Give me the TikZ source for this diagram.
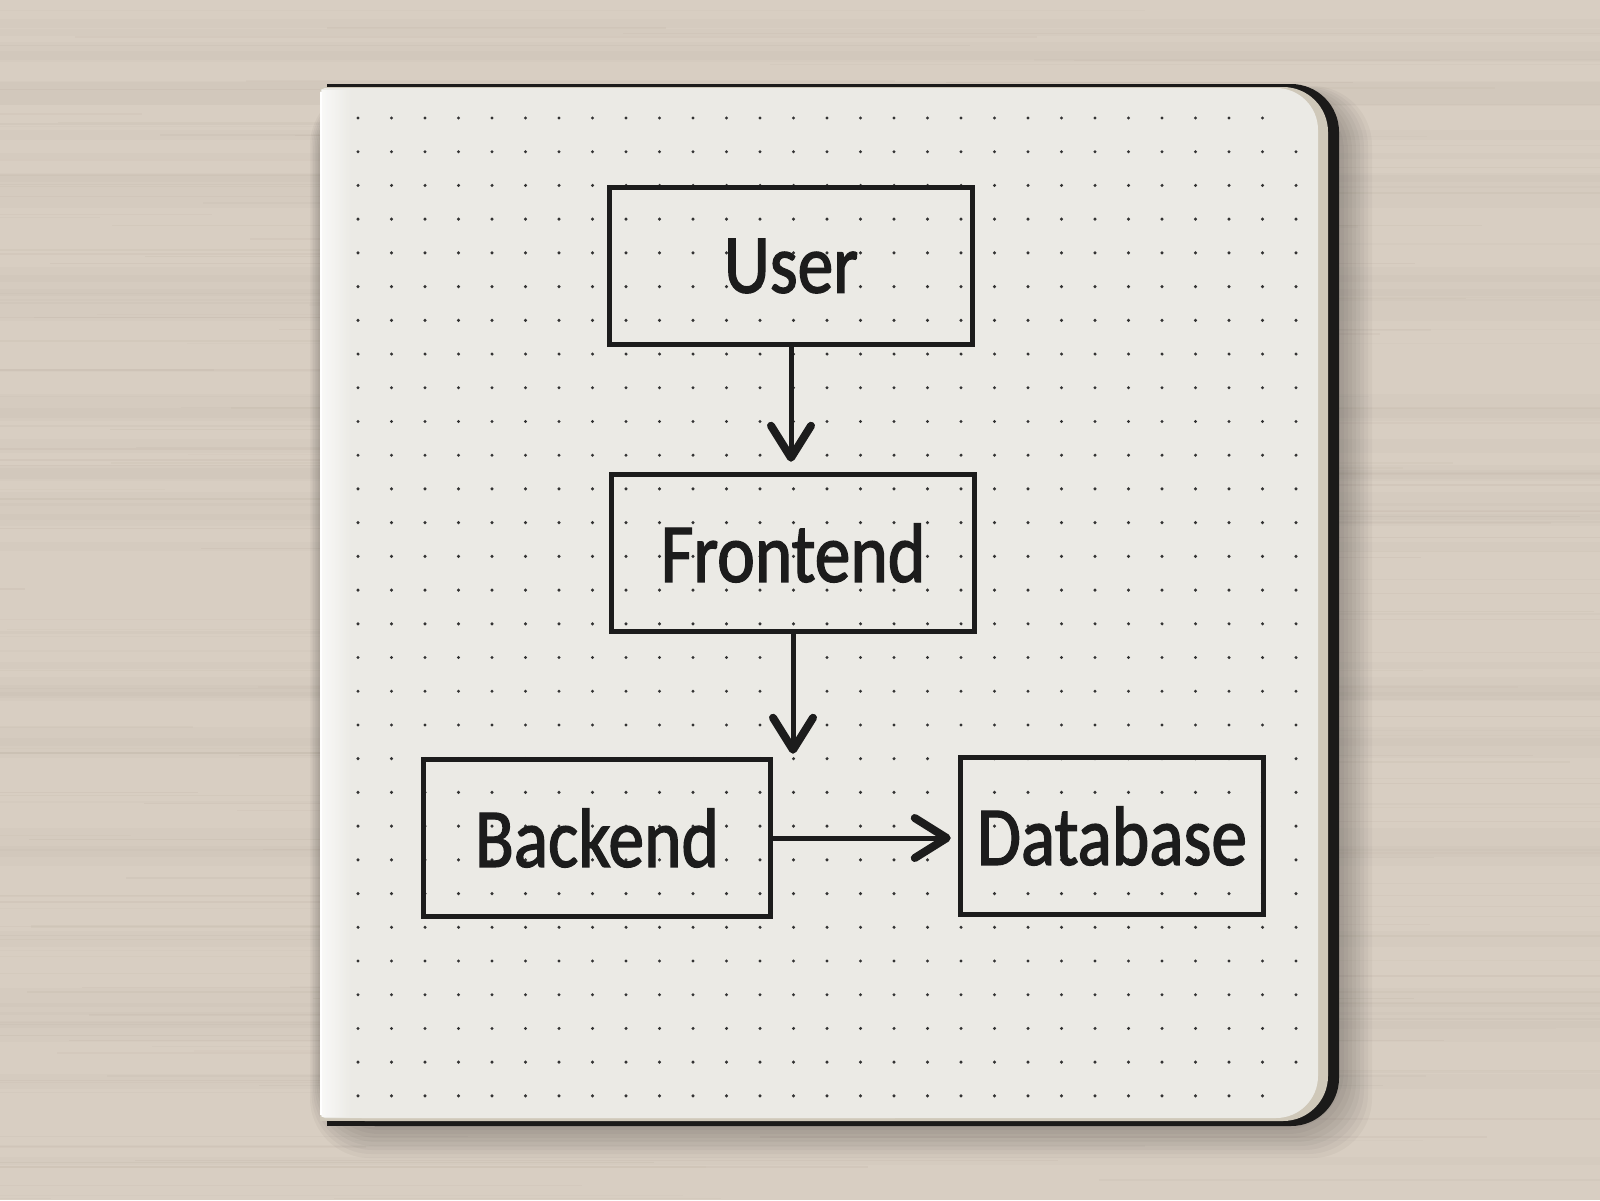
\documentclass[tikz,border=0pt]{standalone}
\usepackage{fontspec}
\newfontfamily\handfont[FakeStretch=0.85, FakeBold=1.6]{Carlito}
\usetikzlibrary{arrows.meta}

\begin{document}
\begin{tikzpicture}[
    x=1pt, y=-1pt,
    every node/.style={align=center},
    sketchbox/.style={draw=inkcolor, line width=5.5pt, minimum height=157pt,
        inner sep=0pt, text=inkcolor,
        font=\handfont\fontsize{84}{90}\selectfont},
    sketcharrow/.style={draw=inkcolor, line width=5pt, line cap=round,
        -{Straight Barb[length=32pt, width=40pt, line width=8pt, round]}},
]

% Colors
\definecolor{woodcolor}{HTML}{D8CEC2}
\definecolor{graincolor}{HTML}{A8998A}
\definecolor{covercolor}{HTML}{1B1A19}
\definecolor{edgecolor}{HTML}{CFC8B9}
\definecolor{papercolor}{HTML}{EBEAE5}
\definecolor{dotcolor}{HTML}{333333}
\definecolor{inkcolor}{HTML}{1C1C1C}

% Node positions
\def\userx{791}
\def\usery{266}
\def\frontx{793}
\def\fronty{553}
\def\backx{597}
\def\backy{838}
\def\dbx{1112}
\def\dby{836}

\useasboundingbox (0,0) rectangle (1600,1200);

% Desk
\fill[woodcolor] (0,0) rectangle (1600,1200);
\pgfmathsetseed{42}
\foreach \k in {1,...,40} {
    \pgfmathsetmacro\gy{rnd*1200}
    \pgfmathsetmacro\gh{6+rnd*18}
    \fill[graincolor, opacity=0.05] (0,\gy) rectangle (1600,{\gy+\gh});
}
\foreach \k in {1,...,220} {
    \pgfmathsetmacro\gy{rnd*1200}
    \pgfmathsetmacro\gx{rnd*1600-500}
    \pgfmathsetmacro\gw{300+rnd*1200}
    \pgfmathsetmacro\gh{0.6+rnd*1.6}
    \pgfmathsetmacro\go{0.04+rnd*0.08}
    \fill[graincolor, opacity=\go] (\gx,\gy) rectangle ({\gx+\gw},{\gy+\gh});
}

% Shadow under the notebook
\foreach \s in {2,6,...,30} {
    \fill[black, opacity=0.03, rounded corners=60]
        ({322-\s*0.4},{92-\s*0.2}) rectangle ({1342+\s},{1128+\s});
}

% Cover
\fill[covercolor, rounded corners=48] (327,84) rectangle (1339,1126);
\fill[covercolor] (327,84) rectangle (800,1126);

% Page edges
\fill[edgecolor, rounded corners=45] (320,87) rectangle (1328,1121);
\fill[edgecolor] (320,87) rectangle (800,1121);

% Paper
\fill[papercolor, rounded corners=42] (320,88) rectangle (1318,1118);
\fill[papercolor, rounded corners=5] (320,88) rectangle (900,1118);
\shade[left color=white, right color=papercolor, opacity=0.7]
    (322,90) rectangle (352,1116);
\draw[white, line width=1.5pt] (321,92) -- (321,1115);

% Dot grid
\foreach \i in {0,...,28} {
    \foreach \j in {0,...,29} {
        \pgfmathtruncatemacro\corner{(\i==28)*((\j==0)+(\j==29))}
        \ifnum\corner=0
            \fill[dotcolor] ({358+33.5*\i},{118+33.72*\j}) circle (1.7);
        \fi
    }
}

% Boxes
\node[sketchbox, minimum width=363pt] (user) at (\userx,\usery) {User};
\node[sketchbox, minimum width=363pt] (frontend) at (\frontx,\fronty) {Frontend};
\node[sketchbox, minimum width=347pt] (backend) at (\backx,\backy) {Backend};
\node[sketchbox, minimum width=303pt] (database) at (\dbx,\dby) {Database};

% Arrows
\coordinate (frontdrop) at (frontend.south |- backend.north);
\draw[sketcharrow, shorten >=10pt] (user.south) -- (user.south |- frontend.north);
\draw[sketcharrow, shorten >=3pt] (frontend.south) -- (frontdrop);
\draw[sketcharrow, shorten >=7pt] (backend.east) -- (backend.east -| database.west);

\end{tikzpicture}
\end{document}
